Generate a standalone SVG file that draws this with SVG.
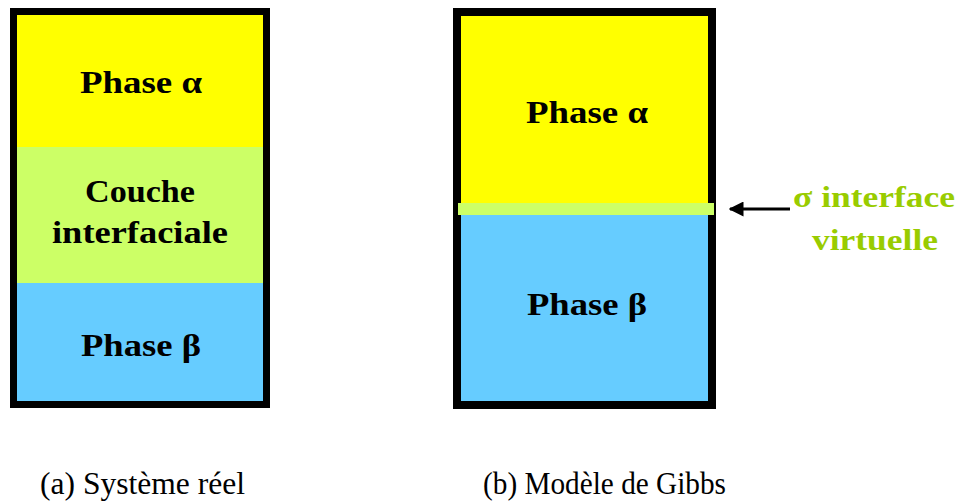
<svg xmlns="http://www.w3.org/2000/svg" width="962" height="501" viewBox="0 0 962 501">
<style>
.lbl{font-family:"Liberation Serif","Times New Roman",serif;font-weight:bold;font-size:31px;fill:#000;text-anchor:middle}
.grn{font-family:"Liberation Serif","Times New Roman",serif;font-weight:bold;font-size:30px;fill:#99cc00;text-anchor:middle}
.cap{font-family:"Liberation Serif","Times New Roman",serif;font-size:32px;fill:#000}
.box{fill:none;stroke:#000;stroke-width:7}
</style>
<defs>
<marker id="ah" viewBox="0 0 10 10" refX="9" refY="5" markerWidth="5" markerHeight="5" orient="auto" markerUnits="strokeWidth">
<path d="M0,0 L10,5 L0,10 z" fill="#000"/>
</marker>
</defs>
<rect width="962" height="501" fill="#fff"/>
<g id="systeme-reel">
<rect x="13" y="11" width="254" height="136" fill="#ffff00"/>
<rect x="13" y="147" width="254" height="136" fill="#ccff66"/>
<rect x="13" y="283" width="254" height="121" fill="#66ccff"/>
<rect class="box" x="13.5" y="11.5" width="253" height="393"/>
<text class="lbl" x="141" y="93" textLength="122" lengthAdjust="spacingAndGlyphs">Phase α</text>
<text class="lbl" x="140" y="202" textLength="110" lengthAdjust="spacingAndGlyphs">Couche</text>
<text class="lbl" x="140" y="243" textLength="176" lengthAdjust="spacingAndGlyphs">interfaciale</text>
<text class="lbl" x="141" y="356" textLength="120" lengthAdjust="spacingAndGlyphs">Phase β</text>
</g>
<g id="modele-gibbs">
<rect x="460" y="12" width="252" height="192" fill="#ffff00"/>
<rect x="460" y="212" width="252" height="192" fill="#66ccff"/>
<rect x="457" y="12" width="255" height="393" fill="none" stroke="#000" stroke-width="8"/>
<rect x="458" y="203" width="256" height="12" fill="#ccff66"/>
<text class="lbl" x="587" y="123" textLength="122" lengthAdjust="spacingAndGlyphs">Phase α</text>
<text class="lbl" x="587" y="315" textLength="120" lengthAdjust="spacingAndGlyphs">Phase β</text>
</g>
<g id="label-interface">
<text class="grn" x="874" y="207" textLength="162" lengthAdjust="spacingAndGlyphs">σ interface</text>
<text class="grn" x="875" y="250" textLength="126" lengthAdjust="spacingAndGlyphs">virtuelle</text>
</g>
<g id="connectors">
<line x1="790" y1="209" x2="730" y2="209" stroke="#000" stroke-width="3" marker-end="url(#ah)"/>
</g>
<g id="captions">
<text class="cap" x="40" y="494" textLength="205" lengthAdjust="spacingAndGlyphs">(a) Système réel</text>
<text class="cap" x="483" y="494" textLength="243" lengthAdjust="spacingAndGlyphs">(b) Modèle de Gibbs</text>
</g>
</svg>
